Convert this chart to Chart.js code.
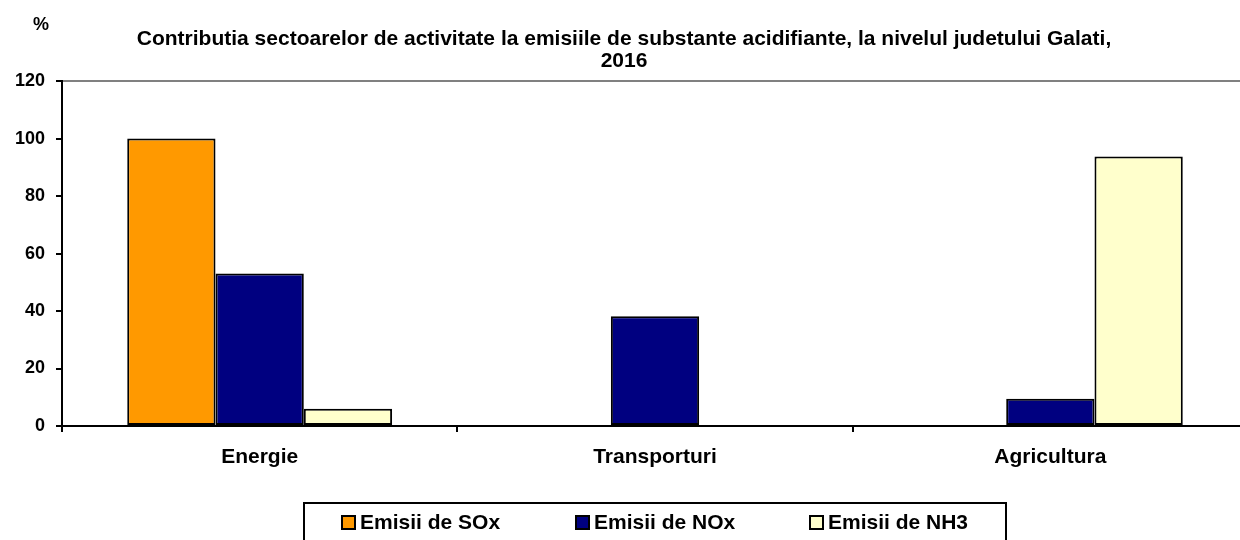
<!DOCTYPE html>
<html>
<head>
<meta charset="utf-8">
<script src="https://cdn.jsdelivr.net/npm/chart.js@4.4.1/dist/chart.umd.min.js"></script>
<style>
  html, body { margin: 0; padding: 0; overflow: hidden; background: #fff; }
  #wrap { width: 1248px; height: 540px; }
</style>
</head>
<body>
<div id="wrap"><canvas id="emisiiChart"></canvas></div>
<script>
const sectoare = ['Energie', 'Transporturi', 'Agricultura'];
const emisiiSOx = [100, 0, 0];
const emisiiNOx = [53.1, 38.2, 9.5];
const emisiiNH3 = [6.0, 0, 93.8];
const seriesNames = ['Emisii de SOx', 'Emisii de NOx', 'Emisii de NH3'];
const seriesColours = ['#FF9900', '#000080', '#FFFFCC'];
const titleLines = ['Contributia sectoarelor de activitate la emisiile de substante acidifiante, la nivelul judetului Galati,', '2016'];

const fontFam = "'Liberation Sans', Arial, sans-serif";

// draws the "%" unit label and the boxed legend under the axis
const extrasPlugin = {
    id: 'extras',
    afterDraw(chart) {
        const ctx = chart.ctx;
        const area = chart.chartArea;
        ctx.save();
        ctx.fillStyle = '#000';
        ctx.font = 'bold 18px ' + fontFam;
        ctx.textAlign = 'center';
        ctx.textBaseline = 'middle';
        ctx.fillText('%', 41, 25);

        const cx = (area.left + area.right) / 2;
        const boxW = 702;
        const boxL = cx - boxW / 2;
        const boxT = area.bottom + 77;
        ctx.strokeStyle = '#000';
        ctx.lineWidth = 2;
        ctx.strokeRect(boxL, boxT, boxW, 60);

        const slot = boxW / 3;
        ctx.font = 'bold 21px ' + fontFam;
        ctx.textAlign = 'left';
        chart.data.datasets.forEach(function (ds, i) {
            const x = boxL + 38 + i * slot;
            const y = boxT + 20;
            ctx.fillStyle = ds.backgroundColor;
            ctx.fillRect(x, y - 7, 13, 13);
            ctx.lineWidth = 2;
            ctx.strokeRect(x, y - 7, 13, 13);
            ctx.fillStyle = '#000';
            ctx.fillText(ds.label, x + 18, y);
        });
        ctx.restore();
    }
};

const emisiiData = {
    labels: sectoare,
    datasets: [
        { label: seriesNames[0], data: emisiiSOx, backgroundColor: seriesColours[0] },
        { label: seriesNames[1], data: emisiiNOx, backgroundColor: seriesColours[1] },
        { label: seriesNames[2], data: emisiiNH3, backgroundColor: seriesColours[2] }
    ].map(ds => Object.assign(ds, {
        borderColor: '#000',
        borderWidth: 2,
        borderSkipped: false,
        categoryPercentage: 0.67,
        barPercentage: 1.0
    }))
};

const emisiiConfig = {
    type: 'bar',
    data: emisiiData,
    options: {
        responsive: true,
        maintainAspectRatio: false,
        animation: false,
        layout: { padding: { left: 0, right: 0, top: 0, bottom: 0 } },
        plugins: {
            legend: { display: false },
            tooltip: { enabled: false },
            title: {
                display: true,
                text: titleLines,
                color: '#000',
                font: { family: fontFam, size: 21, weight: 'bold', lineHeight: 1.05 },
                padding: { top: 28, bottom: 9 }
            }
        },
        scales: {
            x: {
                border: { color: '#000', width: 2 },
                grid: { drawOnChartArea: false, color: '#000', tickLength: 6, lineWidth: 2 },
                ticks: { color: '#000', padding: 13, font: { family: fontFam, size: 21, weight: 'bold' } },
                afterFit(scale) { scale.height = 114; }
            },
            y: {
                min: 0,
                max: 120,
                border: { color: '#000', width: 2 },
                grid: {
                    color: c => (c.tick && c.tick.value === 120) ? '#808080' : 'rgba(0,0,0,0)',
                    lineWidth: 2,
                    tickColor: '#000',
                    tickLength: 6,
                    tickWidth: 2
                },
                ticks: { stepSize: 20, color: '#000', padding: 11, font: { family: fontFam, size: 18, weight: 'bold' } },
                afterFit(scale) { scale.width = 62; }
            }
        }
    },
    plugins: [extrasPlugin]
};

var emisiiChart = new Chart(
    document.getElementById('emisiiChart'),
    emisiiConfig
);
</script>
</body>
</html>
